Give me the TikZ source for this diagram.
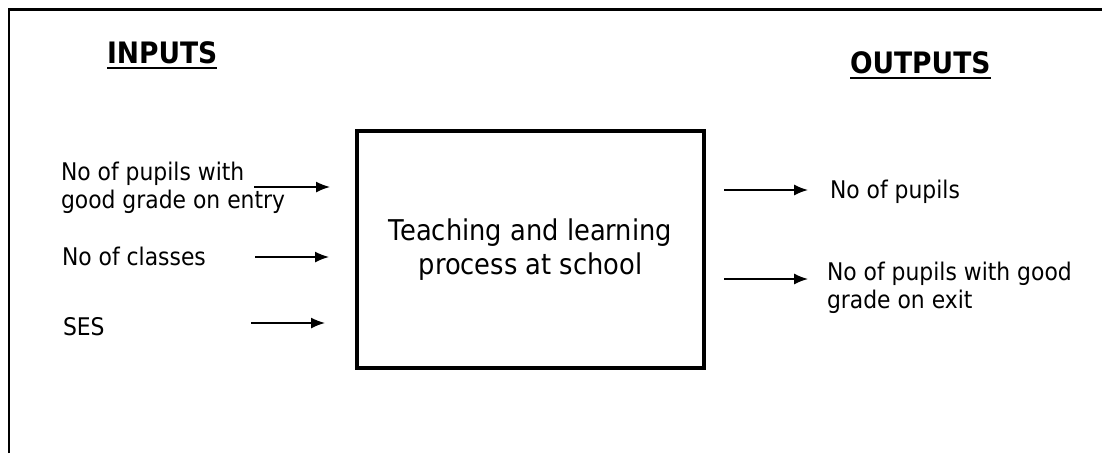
\documentclass[tikz,border=0pt]{standalone}
\usepackage{fontspec}
\setmainfont[FakeStretch=0.9]{DejaVu Sans}
\usetikzlibrary{arrows.meta}
\begin{document}
\begin{tikzpicture}[x=1pt,y=-1pt,
  every node/.style={inner sep=0pt, outer sep=0pt},
  lbl/.style={font=\fontsize{24.3}{28}\selectfont, align=left},
  head/.style={font=\bfseries\fontsize{29.5}{34}\selectfont},
  boxtxt/.style={font=\fontsize{28.6}{34}\selectfont, align=center},
  procbox/.style={draw, line width=4pt, minimum width=347pt, minimum height=237pt},
  arr/.style={line width=1.5pt, -{Latex[length=14pt,width=11pt]}},
  uline/.style={line width=2pt}]
\useasboundingbox (0,0) rectangle (1102,453);
% outer frame (top and left edges only)
\draw[line width=2.2pt] (9,453) -- (9,9.5) -- (1102,9.5);
% headings
\node[head, anchor=base west] (inp) at (107,63) {INPUTS};
\draw[uline] ([yshift=-4.5pt]inp.base west) -- ([yshift=-4.5pt]inp.base east);
\node[head, anchor=base west] (outp) at (850,73) {OUTPUTS};
\draw[uline] ([yshift=-5pt]outp.base west) -- ([yshift=-5pt]outp.base east);
% process box
\node[procbox, boxtxt] (box) at (530.5,249.5) {Teaching and learning\\process at school};
% inputs
\node[lbl, anchor=north west] (in1) at (61,162) {No of pupils with\\good grade on entry};
\node[lbl, anchor=base west] (in2) at (62,265) {No of classes};
\node[lbl, anchor=base west] (in3) at (63,335) {SES};
% outputs
\node[lbl, anchor=base west] (out1) at (830,198) {No of pupils};
\node[lbl, anchor=north west] (out2) at (827,262) {No of pupils with good\\grade on exit};
% arrow end points
\coordinate (a1s) at (254,187); \coordinate (a1e) at (330,187);
\coordinate (a2s) at (255,257); \coordinate (a2e) at (329,257);
\coordinate (a3s) at (251,323); \coordinate (a3e) at (325,323);
\coordinate (b1s) at (724,190); \coordinate (b1e) at (808,190);
\coordinate (b2s) at (724,279); \coordinate (b2e) at (808,279);
\draw[arr] (a1s) -- (a1e);
\draw[arr] (a2s) -- (a2e);
\draw[arr] (a3s) -- (a3e);
\draw[arr] (b1s) -- (b1e);
\draw[arr] (b2s) -- (b2e);
\end{tikzpicture}
\end{document}
